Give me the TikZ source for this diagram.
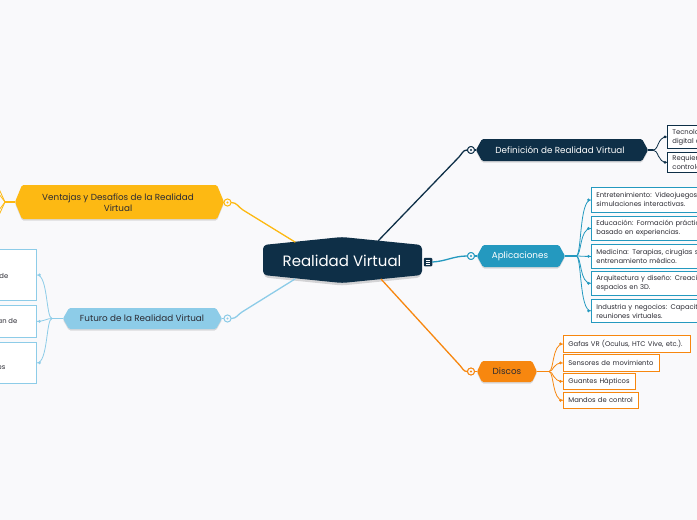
\documentclass[tikz,border=0pt]{standalone}
\usepackage{fontspec}
\setmainfont{Poppins}
\usetikzlibrary{calc}
\definecolor{navy}{HTML}{0E2F47}
\definecolor{aplc}{HTML}{2499BF}
\definecolor{orng}{HTML}{F7870F}
\definecolor{yell}{HTML}{FDB913}
\definecolor{lblu}{HTML}{8DCCE8}
\definecolor{bgc}{HTML}{F9F9FB}
\definecolor{txtd}{HTML}{2B2B33}
\newcommand\hexfill[6]{%
  \fill[black, opacity=0.13, rounded corners=1.5pt] (#2,{(#4+#5)/2+1.5}) -- ({#2+#6},{#4+1.5}) -- ({#3-#6},{#4+1.5}) -- (#3,{(#4+#5)/2+1.5}) -- ({#3-#6},{#5+1.5}) -- ({#2+#6},{#5+1.5}) -- cycle;
  \fill[#1, rounded corners=1.5pt] (#2,{(#4+#5)/2}) -- ({#2+#6},#4) -- ({#3-#6},#4) -- (#3,{(#4+#5)/2}) -- ({#3-#6},#5) -- ({#2+#6},#5) -- cycle;}
\begin{document}
\begin{tikzpicture}[x=1pt,y=-1pt,
  conn/.style={line width=1.3pt, line cap=round},
  thin conn/.style={line width=0.8pt},
  ring/.style={circle, draw, line width=0.9pt, fill=bgc, minimum size=7pt, inner sep=0pt},
  ntext/.style={font=\fontsize{8.8}{11}\selectfont, align=center, inner sep=0pt},
  leaf/.style={draw, line width=0.8pt, fill=white, anchor=north west, align=left,
    inner xsep=5pt, inner ysep=0pt, text=txtd, font=\fontsize{6.8}{9}\selectfont},
  box/.style={draw, line width=0.8pt, fill=white, inner sep=0pt},
  frag/.style={anchor=base east, inner sep=0pt, text=txtd, font=\fontsize{6.8}{9}\selectfont}]
\fill[bgc] (0,0) rectangle (697,520);
\useasboundingbox (0,0) rectangle (697,520);

% ---------- central node ----------
\fill[black, opacity=0.15, rounded corners=4pt] (264,247.5) -- (342,239.5) -- (421,247.5) -- (421,277.5) -- (342,285.5) -- (264,277.5) -- cycle;
\fill[navy, rounded corners=4pt] (263,245) -- (342,237) -- (422,245) -- (422,275) -- (342,283) -- (263,275) -- cycle;
\node[text=white, font=\fontsize{15}{18}\selectfont, inner sep=0pt] (cen) at (342,261) {Realidad Virtual};
\coordinate (cenDef) at (378,241);
\coordinate (cenVen) at (295,242);
\coordinate (cenFut) at (295,279);
\coordinate (cenDis) at (381,279);
% menu icon
\node[fill=navy, rounded corners=1pt, minimum size=8.5pt, inner sep=0pt] (icon) at (428,262) {};
\foreach \dy in {-1.8,0,1.8} \draw[white, line width=0.5pt] ($(icon.center)+(-2.2,\dy)$) -- ($(icon.center)+(2.2,\dy)$);

% ---------- main nodes ----------
\hexfill{navy}{476}{648}{139}{161}{6}
\node[ntext, text=white] (def) at (560,150) {Definición de Realidad Virtual};
\coordinate (defL) at (476,150); \coordinate (defR) at (648,150);

\hexfill{aplc}{477}{565}{245}{267}{6}
\node[ntext, text=white] (apl) at (520,256) {Aplicaciones};
\coordinate (aplL) at (477,256); \coordinate (aplR) at (565,256);

\hexfill{orng}{477}{537}{361}{382}{5}
\node[ntext, text=txtd] (dis) at (507,371.5) {Discos};
\coordinate (disL) at (477,371.5); \coordinate (disR) at (537,371.5);

\hexfill{yell}{15}{224}{185}{219}{7}
\node[ntext, text=txtd] (ven) at (118,202.5) {Ventajas y Desafíos de la Realidad\\Virtual};
\coordinate (venL) at (15,202); \coordinate (venR) at (224,202);

\hexfill{lblu}{63}{222}{308}{329}{6}
\node[ntext, text=txtd] (fut) at (142,318.5) {Futuro de la Realidad Virtual};
\coordinate (futL) at (63,318.5); \coordinate (futR) at (222,318.5);

% ---------- connectors from centre ----------
\node[ring, draw=navy] (rDef) at (471,150) {};
\node[ring, draw=aplc] (rApl) at (471,256) {};
\node[ring, draw=orng] (rDis) at (471,371.5) {};
\node[ring, draw=yell] (rVen) at (227.5,202.5) {};
\node[ring, draw=lblu] (rFut) at (227.5,318.5) {};

\draw[conn, navy] (cenDef) -- (459,157) to[out=46, in=180] (rDef.west);
\draw[conn, aplc] (icon.east) to[out=3, in=180] (rApl.west);
\draw[conn, orng] (cenDis) -- (460,365.5) to[out=-47, in=180] (rDis.west);
\draw[conn, yell] (rVen.east) to[out=0, in=148] (243,210) -- (cenVen);
\draw[conn, lblu] (rFut.east) to[out=0, in=212] (242,312) -- (cenFut);
\draw[conn, navy] (rDef.east) -- (defL);
\draw[conn, aplc] (rApl.east) -- (aplL);
\draw[conn, orng] (rDis.east) -- (disL);
\draw[conn, yell] (rVen.west) -- (venR);
\draw[conn, lblu] (rFut.west) -- (futR);
% redraw rings on top
\node[ring, draw=navy] at (rDef) {}; \fill[navy] (rDef) circle (1.1pt);
\node[ring, draw=aplc] at (rApl) {}; \fill[aplc] (rApl) circle (1.1pt);
\node[ring, draw=orng] at (rDis) {}; \fill[orng] (rDis) circle (1.1pt);
\node[ring, draw=yell] at (rVen) {}; \fill[yell] (rVen) circle (1.1pt);
\node[ring, draw=lblu] at (rFut) {}; \fill[lblu] (rFut) circle (1.1pt);

% ---------- Definicion leaves ----------
\node[leaf, draw=navy, text width=60pt, minimum height=23pt] (d1) at (667,125) {Tecnología\\digital con};
\node[leaf, draw=navy, text width=60pt, minimum height=20pt] (d2) at (667,152) {Requiere\\controles};
\coordinate (jD) at (653,150);
\draw[conn, navy] (defR) -- (jD);
\foreach \n in {d1,d2} {
  \draw[thin conn, navy] (jD) .. controls (659,150) and ([xshift=-10pt]\n.west) .. (\n.west);
  \fill[navy] ($(\n.west)+(-2,0)$) circle (1.5pt);
}

% ---------- Aplicaciones leaves ----------
\node[leaf, draw=aplc, text width=150pt, minimum height=25pt] (a1) at (591,187) {Entretenimiento: Videojuegos,\\simulaciones interactivas.};
\node[leaf, draw=aplc, text width=150pt, minimum height=24pt] (a2) at (591,216) {Educación: Formación práctica\\basado en experiencias.};
\node[leaf, draw=aplc, text width=150pt, minimum height=24pt] (a3) at (591,244) {Medicina: Terapias, cirugías simuladas\\entrenamiento médico.};
\node[leaf, draw=aplc, text width=150pt, minimum height=24pt] (a4) at (591,271) {Arquitectura y diseño: Creación\\espacios en 3D.};
\node[leaf, draw=aplc, text width=150pt, minimum height=23pt] (a5) at (591,299) {Industria y negocios: Capacitación\\reuniones virtuales.};
\coordinate (jA) at (576,256);
\draw[conn, aplc] (aplR) -- (jA);
\foreach \n in {a1,a2,a3,a4,a5} {
  \draw[thin conn, aplc] (jA) .. controls (582,256) and ([xshift=-12pt]\n.west) .. (\n.west);
  \fill[aplc] ($(\n.west)+(-2.5,0)$) circle (1.5pt);
}

% ---------- Discos leaves ----------
\node[leaf, draw=orng, text width=117pt, minimum height=17pt] (o1) at (563,335) {Gafas VR (Oculus, HTC Vive, etc.).};
\node[leaf, draw=orng, text width=86pt, minimum height=17pt] (o2) at (563,354) {Sensores de movimiento};
\node[leaf, draw=orng, text width=62pt, minimum height=16pt] (o3) at (563,373) {Guantes Hápticos};
\node[leaf, draw=orng, text width=65pt, minimum height=16pt] (o4) at (563,392) {Mandos de control};
\coordinate (jO) at (549,371.5);
\draw[conn, orng] (disR) -- (jO);
\foreach \n in {o1,o2,o3,o4} {
  \draw[thin conn, orng] (jO) .. controls (554,371.5) and ([xshift=-11pt]\n.west) .. (\n.west);
  \fill[orng] ($(\n.west)+(-2.5,0)$) circle (1.5pt);
}

% ---------- Futuro leaves ----------
\node[box, draw=lblu, anchor=north east, minimum width=60pt, minimum height=51pt] (f1) at (37,249) {};
\node[box, draw=lblu, anchor=north east, minimum width=60pt, minimum height=32pt] (f2) at (37,305) {};
\node[box, draw=lblu, anchor=north east, minimum width=60pt, minimum height=41pt] (f3) at (37,342) {};
\node[frag] (f1t) at (8.5,278) {de};
\node[frag] (f2t) at (17.5,323) {an de};
\node[frag] (f3t) at (5.5,369.5) {es};
\coordinate (jF) at (52,318.5);
\draw[conn, lblu] (futL) -- (jF);
\draw[thin conn, lblu] (jF) .. controls (46,318.5) and (48,275) .. (f1.east);
\draw[thin conn, lblu] (jF) .. controls (46,318.5) and (46,321) .. (f2.east);
\draw[thin conn, lblu] (jF) .. controls (46,318.5) and (48,363) .. (f3.east);
\foreach \n in {f1,f2,f3} \fill[lblu] ($(\n.east)+(2.5,0)$) circle (1.5pt);

% ---------- Ventajas left branches ----------
\coordinate (jV) at (5,202);
\draw[conn, yell] (venL) -- (jV);
\draw[thin conn, yell] (jV) -- (-6,178);
\draw[thin conn, yell] (jV) -- (-4,190);
\draw[thin conn, yell] (jV) -- (-4,214);
\draw[thin conn, yell] (jV) -- (-6,226);
\end{tikzpicture}
\end{document}
